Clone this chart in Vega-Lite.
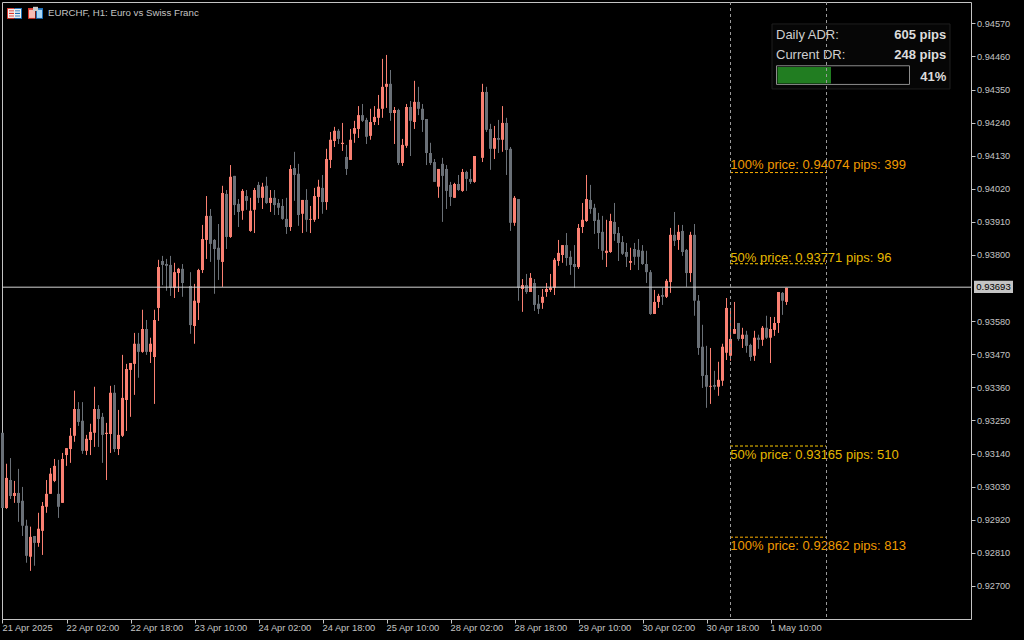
{"$schema":"https://vega.github.io/schema/vega-lite/v6.json","width":969,"height":617,"autosize":"none","padding":{"left":2,"top":2,"right":53,"bottom":21},"background":"#000000","view":{"stroke":"#c4c4c4","strokeWidth":1,"fill":"#000000"},
"datasets":{
"candles":[
{"k":0,"open":0.93209,"high":0.93209,"low":0.92959,"close":0.92959},
{"k":1,"open":0.92959,"high":0.93106,"low":0.92956,"close":0.93059},
{"k":2,"open":0.93052,"high":0.93125,"low":0.92989,"close":0.92999},
{"k":3,"open":0.92999,"high":0.93049,"low":0.92976,"close":0.93009},
{"k":4,"open":0.93009,"high":0.93089,"low":0.92913,"close":0.92976},
{"k":5,"open":0.92983,"high":0.93029,"low":0.92866,"close":0.92900},
{"k":6,"open":0.92900,"high":0.92920,"low":0.92777,"close":0.92800},
{"k":7,"open":0.92797,"high":0.92897,"low":0.92750,"close":0.92863},
{"k":8,"open":0.92866,"high":0.92866,"low":0.92767,"close":0.92843},
{"k":9,"open":0.92843,"high":0.92943,"low":0.92830,"close":0.92890},
{"k":10,"open":0.92883,"high":0.92979,"low":0.92803,"close":0.92966},
{"k":11,"open":0.92963,"high":0.93052,"low":0.92943,"close":0.93006},
{"k":12,"open":0.93006,"high":0.93092,"low":0.93006,"close":0.93073},
{"k":13,"open":0.93049,"high":0.93122,"low":0.93045,"close":0.93099},
{"k":14,"open":0.93006,"high":0.93119,"low":0.92926,"close":0.92963},
{"k":15,"open":0.92976,"high":0.93142,"low":0.92976,"close":0.93122},
{"k":16,"open":0.93135,"high":0.93158,"low":0.93099,"close":0.93158},
{"k":17,"open":0.93155,"high":0.93225,"low":0.93109,"close":0.93199},
{"k":18,"open":0.93199,"high":0.93349,"low":0.93179,"close":0.93288},
{"k":19,"open":0.93288,"high":0.93311,"low":0.93232,"close":0.93245},
{"k":20,"open":0.93249,"high":0.93311,"low":0.93139,"close":0.93149},
{"k":21,"open":0.93149,"high":0.93202,"low":0.93135,"close":0.93189},
{"k":22,"open":0.93185,"high":0.93239,"low":0.93135,"close":0.93212},
{"k":23,"open":0.93209,"high":0.93362,"low":0.93162,"close":0.93288},
{"k":24,"open":0.93288,"high":0.93301,"low":0.93162,"close":0.93255},
{"k":25,"open":0.93262,"high":0.93275,"low":0.93109,"close":0.93202},
{"k":26,"open":0.93205,"high":0.93242,"low":0.93052,"close":0.93209},
{"k":27,"open":0.93205,"high":0.93365,"low":0.93142,"close":0.93342},
{"k":28,"open":0.93342,"high":0.93368,"low":0.93145,"close":0.93155},
{"k":29,"open":0.93155,"high":0.93285,"low":0.93135,"close":0.93202},
{"k":30,"open":0.93199,"high":0.93468,"low":0.93195,"close":0.93325},
{"k":31,"open":0.93318,"high":0.93438,"low":0.93215,"close":0.93421},
{"k":32,"open":0.93418,"high":0.93441,"low":0.93262,"close":0.93441},
{"k":33,"open":0.93438,"high":0.93541,"low":0.93335,"close":0.93505},
{"k":34,"open":0.93505,"high":0.93541,"low":0.93392,"close":0.93478},
{"k":35,"open":0.93478,"high":0.93618,"low":0.93475,"close":0.93554},
{"k":36,"open":0.93554,"high":0.93584,"low":0.93468,"close":0.93478},
{"k":37,"open":0.93478,"high":0.93525,"low":0.93441,"close":0.93505},
{"k":38,"open":0.93461,"high":0.93618,"low":0.93305,"close":0.93584},
{"k":39,"open":0.93624,"high":0.93784,"low":0.93581,"close":0.93760},
{"k":40,"open":0.93780,"high":0.93797,"low":0.93700,"close":0.93767},
{"k":41,"open":0.93770,"high":0.93787,"low":0.93681,"close":0.93764},
{"k":42,"open":0.93767,"high":0.93797,"low":0.93664,"close":0.93691},
{"k":43,"open":0.93691,"high":0.93774,"low":0.93657,"close":0.93743},
{"k":44,"open":0.93740,"high":0.93757,"low":0.93677,"close":0.93754},
{"k":45,"open":0.93754,"high":0.93770,"low":0.93661,"close":0.93707},
{"k":47,"open":0.93697,"high":0.93743,"low":0.93538,"close":0.93567},
{"k":48,"open":0.93564,"high":0.93704,"low":0.93505,"close":0.93648},
{"k":49,"open":0.93641,"high":0.93754,"low":0.93584,"close":0.93750},
{"k":50,"open":0.93750,"high":0.93900,"low":0.93740,"close":0.93853},
{"k":51,"open":0.93850,"high":0.93996,"low":0.93787,"close":0.93930},
{"k":52,"open":0.93930,"high":0.93953,"low":0.93777,"close":0.93837},
{"k":53,"open":0.93850,"high":0.93853,"low":0.93671,"close":0.93820},
{"k":54,"open":0.93824,"high":0.93903,"low":0.93717,"close":0.93784},
{"k":55,"open":0.93777,"high":0.94030,"low":0.93694,"close":0.94006},
{"k":56,"open":0.94003,"high":0.94016,"low":0.93820,"close":0.93860},
{"k":57,"open":0.93860,"high":0.94099,"low":0.93857,"close":0.94060},
{"k":58,"open":0.94063,"high":0.94063,"low":0.93933,"close":0.93966},
{"k":59,"open":0.93970,"high":0.93986,"low":0.93893,"close":0.93943},
{"k":60,"open":0.93947,"high":0.94019,"low":0.93917,"close":0.94013},
{"k":61,"open":0.93996,"high":0.94016,"low":0.93950,"close":0.93980},
{"k":62,"open":0.93880,"high":0.93990,"low":0.93877,"close":0.93947},
{"k":63,"open":0.93950,"high":0.94023,"low":0.93873,"close":0.94016},
{"k":64,"open":0.94033,"high":0.94043,"low":0.93973,"close":0.93990},
{"k":65,"open":0.93990,"high":0.94040,"low":0.93953,"close":0.94027},
{"k":66,"open":0.94030,"high":0.94060,"low":0.93970,"close":0.93973},
{"k":67,"open":0.93973,"high":0.94016,"low":0.93943,"close":0.93990},
{"k":68,"open":0.93990,"high":0.94016,"low":0.93933,"close":0.93966},
{"k":69,"open":0.93973,"high":0.93986,"low":0.93933,"close":0.93957},
{"k":70,"open":0.93963,"high":0.93986,"low":0.93917,"close":0.93920},
{"k":71,"open":0.93920,"high":0.93990,"low":0.93870,"close":0.93893},
{"k":72,"open":0.93893,"high":0.94099,"low":0.93880,"close":0.94086},
{"k":73,"open":0.94089,"high":0.94143,"low":0.93980,"close":0.94066},
{"k":74,"open":0.94070,"high":0.94103,"low":0.93897,"close":0.93933},
{"k":75,"open":0.93937,"high":0.93983,"low":0.93873,"close":0.93983},
{"k":76,"open":0.93983,"high":0.94019,"low":0.93877,"close":0.93917},
{"k":77,"open":0.93917,"high":0.93963,"low":0.93873,"close":0.93920},
{"k":78,"open":0.93917,"high":0.94023,"low":0.93910,"close":0.93996},
{"k":79,"open":0.93993,"high":0.94050,"low":0.93920,"close":0.94027},
{"k":80,"open":0.94023,"high":0.94066,"low":0.93937,"close":0.93976},
{"k":81,"open":0.93976,"high":0.94153,"low":0.93950,"close":0.94119},
{"k":82,"open":0.94116,"high":0.94209,"low":0.94089,"close":0.94183},
{"k":83,"open":0.94179,"high":0.94226,"low":0.94159,"close":0.94213},
{"k":84,"open":0.94213,"high":0.94219,"low":0.94169,"close":0.94186},
{"k":85,"open":0.94169,"high":0.94239,"low":0.94146,"close":0.94173},
{"k":86,"open":0.94126,"high":0.94166,"low":0.94066,"close":0.94086},
{"k":87,"open":0.94116,"high":0.94219,"low":0.94116,"close":0.94183},
{"k":88,"open":0.94203,"high":0.94246,"low":0.94173,"close":0.94222},
{"k":89,"open":0.94219,"high":0.94295,"low":0.94189,"close":0.94265},
{"k":90,"open":0.94265,"high":0.94302,"low":0.94242,"close":0.94246},
{"k":91,"open":0.94249,"high":0.94256,"low":0.94169,"close":0.94193},
{"k":92,"open":0.94196,"high":0.94286,"low":0.94183,"close":0.94242},
{"k":93,"open":0.94242,"high":0.94295,"low":0.94232,"close":0.94259},
{"k":94,"open":0.94256,"high":0.94332,"low":0.94232,"close":0.94286},
{"k":95,"open":0.94286,"high":0.94452,"low":0.94256,"close":0.94359},
{"k":96,"open":0.94359,"high":0.94465,"low":0.94289,"close":0.94369},
{"k":97,"open":0.94369,"high":0.94415,"low":0.94246,"close":0.94272},
{"k":98,"open":0.94272,"high":0.94292,"low":0.94169,"close":0.94282},
{"k":99,"open":0.94282,"high":0.94286,"low":0.94099,"close":0.94106},
{"k":100,"open":0.94106,"high":0.94186,"low":0.94096,"close":0.94166},
{"k":101,"open":0.94163,"high":0.94302,"low":0.94156,"close":0.94292},
{"k":102,"open":0.94292,"high":0.94312,"low":0.94129,"close":0.94246},
{"k":103,"open":0.94242,"high":0.94379,"low":0.94219,"close":0.94309},
{"k":104,"open":0.94309,"high":0.94359,"low":0.94265,"close":0.94286},
{"k":105,"open":0.94286,"high":0.94302,"low":0.94209,"close":0.94249},
{"k":106,"open":0.94252,"high":0.94252,"low":0.94099,"close":0.94139},
{"k":107,"open":0.94139,"high":0.94173,"low":0.94099,"close":0.94106},
{"k":108,"open":0.94109,"high":0.94119,"low":0.94043,"close":0.94043},
{"k":109,"open":0.94027,"high":0.94086,"low":0.93990,"close":0.94086},
{"k":110,"open":0.94103,"high":0.94123,"low":0.93910,"close":0.94063},
{"k":111,"open":0.94086,"high":0.94099,"low":0.93953,"close":0.94013},
{"k":112,"open":0.94033,"high":0.94043,"low":0.93963,"close":0.93993},
{"k":113,"open":0.93990,"high":0.94040,"low":0.93990,"close":0.94036},
{"k":114,"open":0.94036,"high":0.94066,"low":0.94013,"close":0.94016},
{"k":115,"open":0.94013,"high":0.94086,"low":0.94010,"close":0.94076},
{"k":116,"open":0.94076,"high":0.94080,"low":0.94013,"close":0.94053},
{"k":117,"open":0.94053,"high":0.94086,"low":0.94036,"close":0.94043},
{"k":118,"open":0.94043,"high":0.94129,"low":0.94040,"close":0.94129},
{"k":120,"open":0.94123,"high":0.94369,"low":0.94109,"close":0.94342},
{"k":121,"open":0.94342,"high":0.94359,"low":0.94209,"close":0.94216},
{"k":122,"open":0.94219,"high":0.94236,"low":0.94083,"close":0.94153},
{"k":123,"open":0.94153,"high":0.94229,"low":0.94119,"close":0.94189},
{"k":124,"open":0.94189,"high":0.94249,"low":0.94139,"close":0.94183},
{"k":125,"open":0.94183,"high":0.94295,"low":0.94143,"close":0.94239},
{"k":126,"open":0.94239,"high":0.94256,"low":0.94066,"close":0.94149},
{"k":127,"open":0.94153,"high":0.94159,"low":0.93880,"close":0.93907},
{"k":128,"open":0.93907,"high":0.93996,"low":0.93897,"close":0.93990},
{"k":129,"open":0.93986,"high":0.93986,"low":0.93648,"close":0.93691},
{"k":130,"open":0.93687,"high":0.93720,"low":0.93611,"close":0.93700},
{"k":131,"open":0.93700,"high":0.93737,"low":0.93671,"close":0.93677},
{"k":132,"open":0.93677,"high":0.93740,"low":0.93677,"close":0.93724},
{"k":133,"open":0.93707,"high":0.93720,"low":0.93614,"close":0.93634},
{"k":134,"open":0.93638,"high":0.93667,"low":0.93604,"close":0.93621},
{"k":135,"open":0.93641,"high":0.93687,"low":0.93621,"close":0.93661},
{"k":136,"open":0.93677,"high":0.93707,"low":0.93661,"close":0.93687},
{"k":137,"open":0.93684,"high":0.93737,"low":0.93677,"close":0.93691},
{"k":138,"open":0.93691,"high":0.93790,"low":0.93667,"close":0.93784},
{"k":139,"open":0.93780,"high":0.93850,"low":0.93764,"close":0.93807},
{"k":140,"open":0.93800,"high":0.93833,"low":0.93774,"close":0.93833},
{"k":141,"open":0.93833,"high":0.93873,"low":0.93764,"close":0.93790},
{"k":142,"open":0.93794,"high":0.93814,"low":0.93734,"close":0.93767},
{"k":143,"open":0.93770,"high":0.93833,"low":0.93691,"close":0.93760},
{"k":144,"open":0.93760,"high":0.93903,"low":0.93754,"close":0.93890},
{"k":145,"open":0.93893,"high":0.93973,"low":0.93873,"close":0.93917},
{"k":146,"open":0.93913,"high":0.94066,"low":0.93910,"close":0.93986},
{"k":147,"open":0.93983,"high":0.94033,"low":0.93937,"close":0.93953},
{"k":148,"open":0.93957,"high":0.93970,"low":0.93870,"close":0.93913},
{"k":149,"open":0.93917,"high":0.93940,"low":0.93820,"close":0.93873},
{"k":150,"open":0.93877,"high":0.93930,"low":0.93784,"close":0.93814},
{"k":151,"open":0.93807,"high":0.93917,"low":0.93760,"close":0.93814},
{"k":152,"open":0.93810,"high":0.93937,"low":0.93807,"close":0.93913},
{"k":153,"open":0.93910,"high":0.93973,"low":0.93847,"close":0.93870},
{"k":154,"open":0.93873,"high":0.93893,"low":0.93780,"close":0.93840},
{"k":155,"open":0.93843,"high":0.93863,"low":0.93800,"close":0.93804},
{"k":156,"open":0.93810,"high":0.93840,"low":0.93760,"close":0.93794},
{"k":157,"open":0.93774,"high":0.93824,"low":0.93750,"close":0.93780},
{"k":158,"open":0.93820,"high":0.93840,"low":0.93767,"close":0.93794},
{"k":159,"open":0.93817,"high":0.93853,"low":0.93750,"close":0.93794},
{"k":160,"open":0.93814,"high":0.93833,"low":0.93767,"close":0.93770},
{"k":161,"open":0.93770,"high":0.93814,"low":0.93707,"close":0.93743},
{"k":162,"open":0.93743,"high":0.93750,"low":0.93601,"close":0.93604},
{"k":163,"open":0.93604,"high":0.93684,"low":0.93604,"close":0.93644},
{"k":164,"open":0.93644,"high":0.93671,"low":0.93624,"close":0.93664},
{"k":165,"open":0.93667,"high":0.93691,"low":0.93634,"close":0.93661},
{"k":166,"open":0.93661,"high":0.93720,"low":0.93657,"close":0.93714},
{"k":167,"open":0.93710,"high":0.93890,"low":0.93674,"close":0.93867},
{"k":168,"open":0.93867,"high":0.93943,"low":0.93830,"close":0.93847},
{"k":169,"open":0.93850,"high":0.93900,"low":0.93817,"close":0.93877},
{"k":170,"open":0.93880,"high":0.93900,"low":0.93797,"close":0.93810},
{"k":171,"open":0.93817,"high":0.93820,"low":0.93694,"close":0.93740},
{"k":172,"open":0.93740,"high":0.93877,"low":0.93710,"close":0.93867},
{"k":173,"open":0.93867,"high":0.93903,"low":0.93598,"close":0.93648},
{"k":174,"open":0.93648,"high":0.93667,"low":0.93468,"close":0.93491},
{"k":175,"open":0.93495,"high":0.93568,"low":0.93358,"close":0.93398},
{"k":176,"open":0.93401,"high":0.93498,"low":0.93292,"close":0.93362},
{"k":177,"open":0.93362,"high":0.93491,"low":0.93305,"close":0.93365},
{"k":178,"open":0.93368,"high":0.93415,"low":0.93352,"close":0.93362},
{"k":179,"open":0.93362,"high":0.93445,"low":0.93332,"close":0.93385},
{"k":180,"open":0.93382,"high":0.93505,"low":0.93365,"close":0.93495},
{"k":181,"open":0.93475,"high":0.93657,"low":0.93451,"close":0.93624},
{"k":182,"open":0.93465,"high":0.93624,"low":0.93448,"close":0.93521},
{"k":183,"open":0.93538,"high":0.93644,"low":0.93538,"close":0.93554},
{"k":184,"open":0.93574,"high":0.93574,"low":0.93515,"close":0.93521},
{"k":185,"open":0.93521,"high":0.93558,"low":0.93491,"close":0.93535},
{"k":186,"open":0.93535,"high":0.93548,"low":0.93475,"close":0.93498},
{"k":187,"open":0.93501,"high":0.93505,"low":0.93448,"close":0.93461},
{"k":188,"open":0.93465,"high":0.93548,"low":0.93448,"close":0.93525},
{"k":189,"open":0.93525,"high":0.93535,"low":0.93488,"close":0.93518},
{"k":190,"open":0.93518,"high":0.93564,"low":0.93498,"close":0.93558},
{"k":191,"open":0.93558,"high":0.93598,"low":0.93521,"close":0.93525},
{"k":192,"open":0.93525,"high":0.93594,"low":0.93441,"close":0.93554},
{"k":193,"open":0.93551,"high":0.93594,"low":0.93531,"close":0.93574},
{"k":194,"open":0.93574,"high":0.93677,"low":0.93541,"close":0.93677},
{"k":195,"open":0.93674,"high":0.93677,"low":0.93601,"close":0.93648},
{"k":196,"open":0.93644,"high":0.93691,"low":0.93634,"close":0.93691}
],
"levels":[
{"k":181.875,"k2":205.875,"p":0.94074,"tk":181.95,"tp":0.94100,"level":"100%","label":"100% price: 0.94074 pips: 399"},
{"k":181.875,"k2":205.875,"p":0.93771,"tk":181.95,"tp":0.93791,"level":"50%","label":"50% price: 0.93771 pips: 96"},
{"k":181.875,"k2":205.875,"p":0.93165,"tk":181.95,"tp":0.93136,"level":"50%","label":"50% price: 0.93165 pips: 510"},
{"k":181.875,"k2":205.875,"p":0.92862,"tk":181.95,"tp":0.92833,"level":"100%","label":"100% price: 0.92862 pips: 813"}
],
"icons":[
{"k":1.125,"k2":3,"p":0.94621,"p2":0.94585,"part":"red"},
{"k":3,"k2":4.875,"p":0.94621,"p2":0.94585,"part":"blue"},
{"k":1.375,"k2":4.625,"p":0.94618,"p2":0.94588,"part":"white"},
{"k":1.625,"k2":2.875,"p":0.94613,"p2":0.94610,"part":"red"},
{"k":1.625,"k2":2.875,"p":0.94605,"p2":0.94601,"part":"red"},
{"k":1.625,"k2":2.875,"p":0.94596,"p2":0.94593,"part":"red"},
{"k":3.125,"k2":4.375,"p":0.94613,"p2":0.94610,"part":"blue"},
{"k":3.125,"k2":4.375,"p":0.94605,"p2":0.94601,"part":"blue"},
{"k":3.125,"k2":4.375,"p":0.94596,"p2":0.94593,"part":"blue"},
{"k":6.375,"k2":8.25,"p":0.94621,"p2":0.94585,"part":"red"},
{"k":8.375,"k2":10.125,"p":0.94621,"p2":0.94585,"part":"blue"},
{"k":6.625,"k2":8.125,"p":0.94615,"p2":0.94588,"part":"pink"},
{"k":8.625,"k2":9.875,"p":0.94615,"p2":0.94588,"part":"sky"},
{"k":7.625,"k2":8.875,"p":0.94625,"p2":0.94611,"part":"grey"}
],
"ticksY":[{"p":0.93693}],
"days":[{"k":182},{"k":206}],
"title":[{"k":11.375,"p":0.94605,"t":"EURCHF, H1:  Euro vs Swiss Franc"}],
"panel":[{"k":192.375,"k2":236.875,"p":0.94568,"p2":0.94352}],
"frame":[{"k":193.5,"k2":226.75,"p":0.94429,"p2":0.94367}],
"fill":[{"k":193.75,"k2":207.125,"p":0.94425,"p2":0.94370}],
"left":[{"k":193.375,"p":0.94532,"t":"Daily ADR:"},{"k":193.375,"p":0.94465,"t":"Current DR:"}],
"right":[{"k":235.95,"p":0.94532,"t":"605 pips"},{"k":235.95,"p":0.94465,"t":"248 pips"},{"k":235.95,"p":0.94392,"t":"41%"}],
"tagBox":[{"k":242.875,"k2":252.625,"p":0.93714,"p2":0.93674}],
"tagText":[{"k":247.75,"p":0.93693,"t":"0.93693"}]
},
"layer":[
{"data":{"name":"candles"},"mark":{"type":"rule","strokeWidth":1},"encoding":{
"x":{"field":"k","type":"quantitative","scale":{"domain":[-0.125,242.125],"nice":false,"zero":false,"padding":0},"title":null,"axis":{"values":[0,16,32,48,64,80,96,112,128,144,160,176,192],"labelExpr":"['21 Apr 2025','22 Apr 02:00','22 Apr 18:00','23 Apr 10:00','24 Apr 02:00','24 Apr 18:00','25 Apr 10:00','28 Apr 02:00','28 Apr 18:00','29 Apr 10:00','30 Apr 02:00','30 Apr 18:00','1 May 10:00'][datum.value/16]","tickCount":13,"grid":false,"domain":false,"tickColor":"#c4c4c4","tickSize":4,"labelColor":"#c4c4c4","labelFont":"Liberation Sans","labelFontSize":9.3,"labelAlign":"left","labelBaseline":"top","labelPadding":0,"labelOffset":-0.5,"labelOverlap":false,"labelFlush":false,"labelBound":false,"title":null}},
"y":{"field":"low","type":"quantitative","scale":{"domain":[0.9259,0.94641],"nice":false,"zero":false},"title":null,"axis":{"orient":"right","values":[0.9457,0.9446,0.9435,0.9424,0.9413,0.9402,0.9391,0.938,0.9358,0.9347,0.9336,0.9325,0.9314,0.9303,0.9292,0.9281,0.927],"tickCount":17,"format":".5f","grid":false,"domain":false,"tickColor":"#c4c4c4","tickSize":4,"labelColor":"#c4c4c4","labelFont":"Liberation Sans","labelFontSize":9.2,"labelPadding":1.5,"labelOverlap":false,"labelBound":false,"labelFlush":false,"title":null}},
"y2":{"field":"high"},
"color":{"condition":{"test":"datum.close>=datum.open","value":"#fa8072"},"value":"#6a7077"}}},
{"data":{"name":"candles"},"mark":{"type":"bar","size":3,"orient":"vertical"},"encoding":{
"x":{"field":"k","type":"quantitative"},
"y":{"field":"open","type":"quantitative"},
"y2":{"field":"close"},
"color":{"condition":{"test":"datum.close>=datum.open","value":"#fa8072"},"value":"#6a7077"}}},
{"data":{"name":"ticksY"},"mark":{"type":"rule","color":"#d4d4d4","strokeWidth":1},"encoding":{"y":{"field":"p","type":"quantitative"}}},
{"data":{"name":"levels"},"mark":{"type":"rule","strokeWidth":1,"strokeDash":[3,2]},"encoding":{"x":{"field":"k","type":"quantitative"},"x2":{"field":"k2"},"y":{"field":"p","type":"quantitative"},"color":{"condition":{"test":"datum.level=='100%'","value":"#ffb000"},"value":"#ffcc00"}}},
{"data":{"name":"levels"},"mark":{"type":"text","align":"left","baseline":"middle","font":"Liberation Sans","fontSize":13},"encoding":{"x":{"field":"tk","type":"quantitative"},"y":{"field":"tp","type":"quantitative"},"text":{"field":"label"},"color":{"condition":{"test":"datum.level=='100%'","value":"#f09a00"},"value":"#e6b800"}}},
{"data":{"name":"icons"},"mark":{"type":"rect"},"encoding":{"x":{"field":"k","type":"quantitative"},"x2":{"field":"k2"},"y":{"field":"p","type":"quantitative"},"y2":{"field":"p2"},"color":{"field":"part","type":"nominal","legend":null,"scale":{"domain":["red","blue","white","pink","sky","grey"],"range":["#d9372c","#1c6fb8","#f2f2f2","#f7bdb5","#a9d6f5","#c9c9c9"]}}}},
{"data":{"name":"title"},"mark":{"type":"text","align":"left","baseline":"middle","font":"Liberation Sans","fontSize":9.7,"color":"#c4c4c4"},"encoding":{"x":{"field":"k","type":"quantitative"},"y":{"field":"p","type":"quantitative"},"text":{"field":"t"}}},
{"data":{"name":"panel"},"mark":{"type":"rect","fill":"#060606","stroke":"#1e1e1e","strokeWidth":1},"encoding":{"x":{"field":"k","type":"quantitative"},"x2":{"field":"k2"},"y":{"field":"p","type":"quantitative"},"y2":{"field":"p2"}}},
{"data":{"name":"frame"},"mark":{"type":"rect","fill":"#000000","stroke":"#8c8c8c","strokeWidth":1},"encoding":{"x":{"field":"k","type":"quantitative"},"x2":{"field":"k2"},"y":{"field":"p","type":"quantitative"},"y2":{"field":"p2"}}},
{"data":{"name":"fill"},"mark":{"type":"rect","fill":"#217d21"},"encoding":{"x":{"field":"k","type":"quantitative"},"x2":{"field":"k2"},"y":{"field":"p","type":"quantitative"},"y2":{"field":"p2"}}},
{"data":{"name":"left"},"mark":{"type":"text","align":"left","baseline":"middle","font":"Liberation Sans","fontSize":13,"color":"#cfcfcf"},"encoding":{"x":{"field":"k","type":"quantitative"},"y":{"field":"p","type":"quantitative"},"text":{"field":"t"}}},
{"data":{"name":"right"},"mark":{"type":"text","align":"right","baseline":"middle","font":"Liberation Sans","fontSize":13,"fontWeight":"bold","color":"#dcdcdc"},"encoding":{"x":{"field":"k","type":"quantitative"},"y":{"field":"p","type":"quantitative"},"text":{"field":"t"}}},
{"data":{"name":"days"},"mark":{"type":"rule","color":"#9a9a9a","strokeWidth":1,"strokeDash":[3,3]},"encoding":{"x":{"field":"k","type":"quantitative"}}},
{"data":{"name":"tagBox"},"mark":{"type":"rect","fill":"#c4c4c4"},"encoding":{"x":{"field":"k","type":"quantitative"},"x2":{"field":"k2"},"y":{"field":"p","type":"quantitative"},"y2":{"field":"p2"}}},
{"data":{"name":"tagText"},"mark":{"type":"text","align":"center","baseline":"middle","font":"Liberation Sans","fontSize":9.5,"color":"#000000"},"encoding":{"x":{"field":"k","type":"quantitative"},"y":{"field":"p","type":"quantitative"},"text":{"field":"t"}}}
]}
